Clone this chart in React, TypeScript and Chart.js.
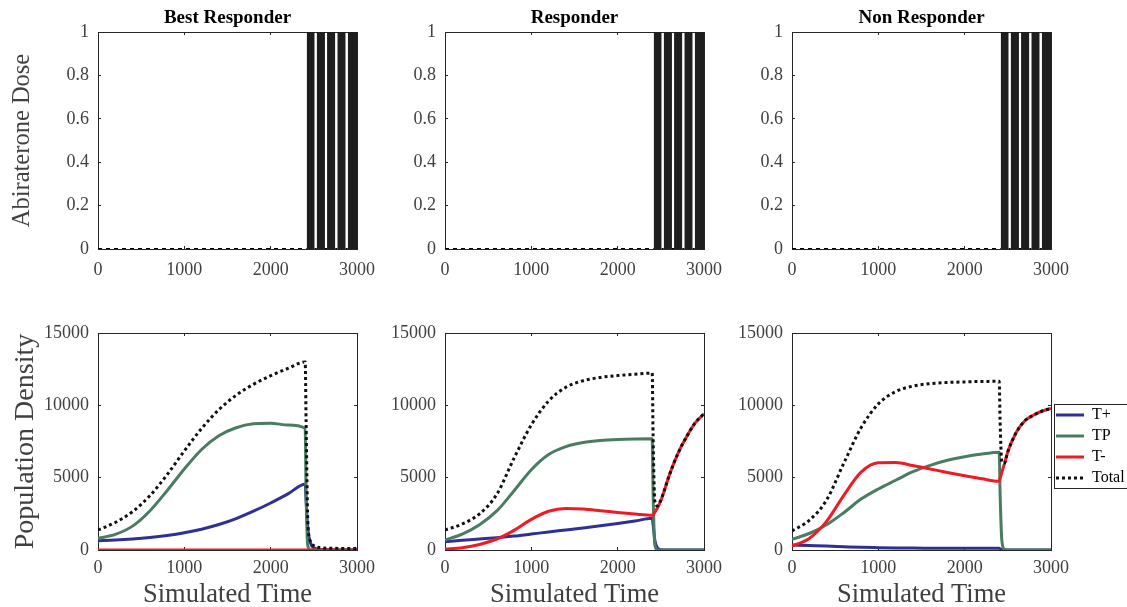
import React, { useEffect, useRef } from 'react';
import { Chart, registerables } from 'chart.js';

Chart.register(...registerables);

const FONT = "'Liberation Serif', 'Times New Roman', Times, serif";
const AXIS = '#262626';
const TEXT = '#404040';

Chart.defaults.font.family = FONT;

// ---- labels / ticks ----
const panelTitles = ['Best Responder', 'Responder', 'Non Responder'];
const seriesNames = ['T+', 'TP', 'T-', 'Total'];
const timeTicks = [0, 1000, 2000, 3000];
const doseTicks = [0, 0.2, 0.4, 0.6, 0.8, 1];
const popTicks = [0, 5000, 10000, 15000];

// ---- abiraterone dose schedule (same in all three panels) ----
const doseTime = [0, 2417, 2417, 2510, 2510, 2533, 2533, 2629, 2629, 2653, 2653, 2749, 2749, 2772, 2772, 2869, 2869, 2893, 2893, 3000];
const doseLevel = [0, 0, 1, 1, 0, 0, 1, 1, 0, 0, 1, 1, 0, 0, 1, 1, 0, 0, 1, 1];

// ---- population densities ----
const simTime = [0, 200, 400, 600, 800, 1000, 1200, 1400, 1600, 1800, 2000, 2200, 2400, 2410, 2430, 2460, 2500, 2600, 2700, 2800, 2900, 3000];

const bestTplus = [646, 690, 760, 860, 1000, 1190, 1440, 1760, 2170, 2680, 3250, 3880, 4550, 3500, 1500, 500, 150, 30, 10, 5, 5, 5];
const bestTP = [808, 1080, 1650, 2700, 4100, 5600, 6950, 7900, 8450, 8720, 8760, 8640, 8420, 4000, 300, 0, 0, 0, 0, 0, 0, 0];
const bestTminus = [0, 0, 0, 0, 0, 0, 0, 0, 0, 0, 0, 0, 0, 0, 0, 0, 0, 0, 0, 0, 0, 0];
const bestTotal = [1385, 1900, 2650, 3750, 5200, 6850, 8400, 9700, 10700, 11450, 12050, 12550, 13000, 9000, 2000, 600, 300, 150, 120, 110, 100, 100];

const respTplus = [577, 670, 760, 850, 960, 1100, 1250, 1380, 1520, 1670, 1830, 2000, 2190, 1800, 700, 150, 20, 0, 0, 0, 0, 0];
const respTP = [692, 1100, 1750, 2700, 4100, 5550, 6600, 7150, 7430, 7570, 7640, 7675, 7690, 4000, 400, 0, 0, 0, 0, 0, 0, 0];
const respTminus = [70, 160, 380, 760, 1360, 2120, 2680, 2870, 2830, 2720, 2600, 2490, 2400, 2430, 2600, 2900, 3400, 5200, 6700, 7850, 8800, 9420];
const respTotal = [1385, 1800, 2500, 3850, 6350, 8650, 10300, 11250, 11700, 11930, 12060, 12150, 12230, 8000, 3400, 3050, 3450, 5200, 6700, 7850, 8800, 9420];

const nonTplus = [346, 310, 277, 230, 185, 160, 140, 130, 125, 120, 115, 115, 115, 80, 20, 0, 0, 0, 0, 0, 0, 0];
const nonTP = [740, 1140, 1740, 2580, 3520, 4220, 4820, 5410, 5850, 6200, 6450, 6630, 6760, 4000, 700, 50, 0, 0, 0, 0, 0, 0];
const nonTminus = [277, 800, 1980, 3780, 5380, 6030, 6040, 5840, 5600, 5360, 5130, 4920, 4750, 4950, 5350, 5950, 6800, 8150, 8950, 9330, 9610, 9780];
const nonTotal = [1315, 2050, 3450, 6000, 8450, 10100, 10950, 11330, 11500, 11580, 11620, 11650, 11660, 9000, 6100, 6000, 6800, 8150, 8950, 9330, 9610, 9780];

const popSeries = [
  [bestTplus, bestTP, bestTminus, bestTotal],
  [respTplus, respTP, respTminus, respTotal],
  [nonTplus, nonTP, nonTminus, nonTotal],
];

const seriesColors = ['#2e3192', '#4a7c62', '#ed1c24', '#111111'];

const toPoints = (xs: number[], ys: number[]) => xs.map((x, i) => ({ x, y: ys[i] }));

function buildScales(o: any) {
  const grid = { drawOnChartArea: false, drawTicks: true, tickLength: -3, color: AXIS, lineWidth: 1 };
  const border = { display: true, color: AXIS, width: 1 };
  const tickFont = () => ({ family: FONT, size: 18 });
  const setTicks = (arr: number[]) => (s: any) => {
    s.ticks = arr.map((v) => ({ value: v }));
  };
  return {
    x: {
      type: 'linear',
      position: 'bottom',
      min: 0,
      max: 3000,
      afterBuildTicks: setTicks(timeTicks),
      ticks: { font: tickFont(), color: TEXT, padding: o.xPad, maxRotation: 0, autoSkip: false, callback: (v: any) => String(v) },
      grid,
      border,
      title: o.xTitle
        ? { display: true, text: o.xTitle, color: TEXT, font: { family: FONT, size: 26.5, lineHeight: 0.9 }, padding: 0 }
        : { display: false },
      afterFit: (s: any) => {
        s.height = o.xHeight;
      },
    },
    x2: {
      type: 'linear',
      position: 'top',
      min: 0,
      max: 3000,
      afterBuildTicks: setTicks(timeTicks),
      ticks: { display: false },
      grid,
      border,
      afterFit: (s: any) => {
        s.height = 0;
      },
    },
    y: {
      type: 'linear',
      position: 'left',
      min: 0,
      max: o.yMax,
      afterBuildTicks: setTicks(o.yTicks),
      ticks: { font: tickFont(), color: TEXT, padding: 12, autoSkip: false, callback: (v: any) => String(v) },
      grid,
      border,
      title: o.yTitle
        ? { display: true, text: o.yTitle, color: TEXT, font: { family: FONT, size: o.yTitleSize }, padding: { top: o.yTitlePad, bottom: 0 } }
        : { display: false },
      afterFit: (s: any) => {
        s.width = 98;
      },
    },
    y2: {
      type: 'linear',
      position: 'right',
      min: 0,
      max: o.yMax,
      afterBuildTicks: setTicks(o.yTicks),
      ticks: { display: false },
      grid,
      border,
      afterFit: (s: any) => {
        s.width = 0;
      },
    },
  };
}

const legendFrame = {
  id: 'legendFrame',
  afterDraw(chart: any) {
    const lg = chart.legend;
    if (!lg || !lg.options.display || !lg.legendHitBoxes || !lg.legendHitBoxes.length) return;
    const hb = lg.legendHitBoxes;
    const ctx = chart.ctx;
    const x0 = Math.round(chart.chartArea.right) + 3.5;
    const y0 = Math.round(hb[0].top) - 2.5;
    const last = hb[hb.length - 1];
    const y1 = Math.round(last.top + last.height) + 2.5;
    ctx.save();
    ctx.strokeStyle = AXIS;
    ctx.lineWidth = 1;
    ctx.strokeRect(x0, y0, chart.width + 10 - x0, y1 - y0);
    ctx.restore();
  },
};

function makeConfig(row: number, col: number, withLegend: boolean): any {
  if (row === 0) {
    return {
      type: 'line',
      data: {
        datasets: [
          {
            label: 'Abiraterone Dose',
            data: toPoints(doseTime, doseLevel),
            borderColor: '#000',
            backgroundColor: '#1e1e1e',
            borderWidth: 2,
            fill: 'origin',
            pointRadius: 0,
            tension: 0,
            segment: {
              borderDash: (c: any) => (c.p0.parsed.y === 0 && c.p1.parsed.y === 0 ? [4, 4] : undefined),
              borderColor: (c: any) => (c.p0.parsed.y === 0 && c.p1.parsed.y === 0 ? '#000' : 'rgba(0,0,0,0)'),
            },
          },
        ],
      },
      options: {
        animation: false,
        responsive: false,
        maintainAspectRatio: false,
        devicePixelRatio: 1,
        font: { family: FONT },
        layout: { padding: { left: 0, right: 40, top: 0, bottom: 0 } },
        plugins: {
          legend: { display: false },
          tooltip: { enabled: false },
          title: {
            display: true,
            text: panelTitles[col],
            fullSize: false,
            color: '#000',
            font: { family: FONT, size: 19, weight: 'bold', lineHeight: 1 },
            padding: { top: 9, bottom: 4 },
          },
        },
        scales: buildScales({
          xPad: 13,
          xHeight: 31,
          yMax: 1,
          yTicks: doseTicks,
          yTitle: col === 0 ? 'Abiraterone Dose' : null,
          yTitleSize: 24.5,
          yTitlePad: 8,
        }),
      },
    };
  }
  const datasets = popSeries[col].map((vals, i) => ({
    label: seriesNames[i],
    data: toPoints(simTime, vals),
    borderColor: seriesColors[i],
    backgroundColor: seriesColors[i],
    borderWidth: 3,
    borderDash: i === 3 ? [3, 3] : [],
    pointRadius: 0,
    cubicInterpolationMode: 'monotone',
    fill: false,
    order: 4 - i,
  }));
  return {
    type: 'line',
    data: { datasets },
    options: {
      animation: false,
      responsive: false,
      maintainAspectRatio: false,
      devicePixelRatio: 1,
      font: { family: FONT },
      layout: { padding: { left: 0, right: withLegend ? 0 : 40, top: 43, bottom: 0 } },
      plugins: {
        tooltip: { enabled: false },
        title: { display: false },
        legend: withLegend
          ? {
              display: true,
              position: 'right',
              align: 'center',
              fullSize: false,
              maxWidth: 76,
              title: { display: true, text: '', font: { size: 1, lineHeight: 1 }, padding: { top: 0, bottom: 9 } },
              labels: {
                usePointStyle: true,
                pointStyleWidth: 28,
                boxHeight: 16,
                padding: 5,
                color: '#000',
                font: { family: FONT, size: 16 },
                generateLabels: (chart: any) =>
                  chart.data.datasets.map((ds: any, i: number) => ({
                    text: ds.label,
                    fillStyle: ds.borderColor,
                    strokeStyle: ds.borderColor,
                    lineWidth: 3,
                    lineDash: i === 3 ? [3, 3] : [],
                    lineCap: 'butt',
                    pointStyle: 'line',
                    hidden: false,
                    datasetIndex: i,
                    fontColor: '#000',
                  })),
              },
            }
          : { display: false },
      },
      scales: buildScales({
        xPad: 10.6,
        xHeight: 57,
        xTitle: 'Simulated Time',
        yMax: 15000,
        yTicks: popTicks,
        yTitle: col === 0 ? 'Population Density' : null,
        yTitleSize: 28,
        yTitlePad: 9,
      }),
    },
    plugins: withLegend ? [legendFrame] : [],
  };
}

function ChartPanel(props: { row: number; col: number; left: number; top: number; width: number; height: number; legend: boolean }) {
  const ref = useRef<HTMLCanvasElement | null>(null);
  useEffect(() => {
    if (!ref.current) return;
    const chart = new Chart(ref.current, makeConfig(props.row, props.col, props.legend));
    return () => chart.destroy();
  }, []);
  return (
    <canvas
      ref={ref}
      width={props.width}
      height={props.height}
      style={{ position: 'absolute', left: props.left, top: props.top, width: props.width, height: props.height, display: 'block' }}
    />
  );
}

export default function App() {
  const panels: any[] = [];
  for (let row = 0; row < 2; row++) {
    for (let col = 0; col < 3; col++) {
      const legend = row === 1 && col === 2;
      panels.push({
        row,
        col,
        legend,
        left: col * 347,
        top: row === 0 ? 0 : 290,
        width: legend ? 1127 - col * 347 : 397,
        height: row === 0 ? 280 : 317,
      });
    }
  }
  return (
    <div style={{ position: 'absolute', left: 0, top: 0, width: 1127, height: 607, overflow: 'hidden', background: '#ffffff' }}>
      {panels.map((p) => (
        <ChartPanel key={`${p.row}-${p.col}`} {...p} />
      ))}
    </div>
  );
}
